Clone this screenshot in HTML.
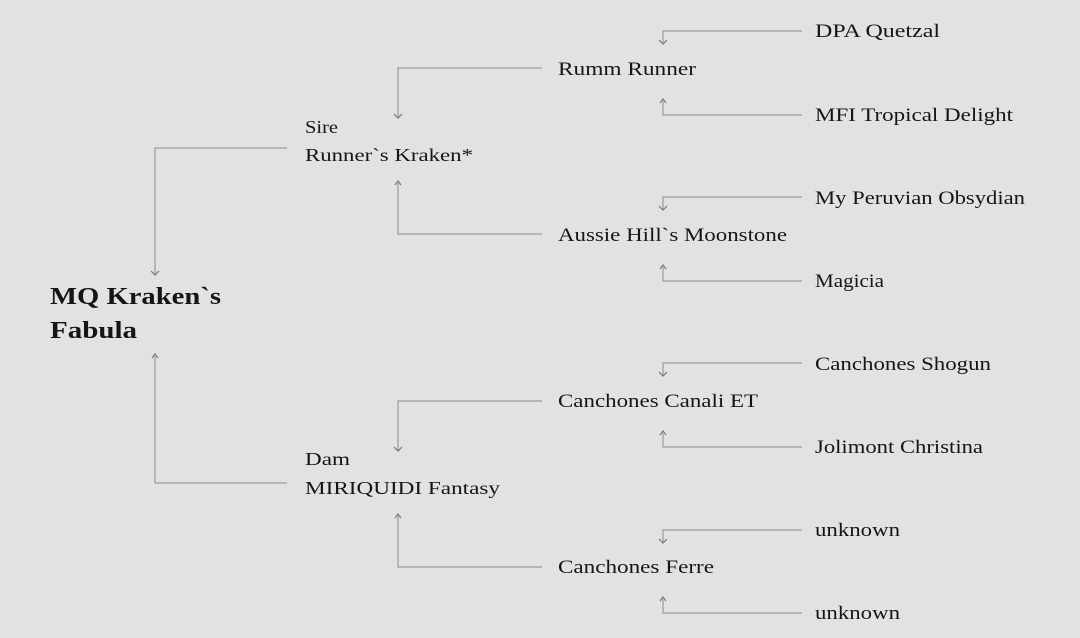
<!DOCTYPE html>
<html><head><meta charset="utf-8"><style>
html,body{margin:0;padding:0;background:#e0e2e3;}
svg{display:block;}
text{font-family:"Liberation Serif",serif;fill:#151515;}
.l{stroke:#9a9c9d;stroke-width:1.2;fill:none;}
.a{stroke:#777;stroke-width:1.2;fill:none;}
</style></head><body>
<svg width="1080" height="638" viewBox="0 0 1080 638" xmlns="http://www.w3.org/2000/svg">
<rect width="1080" height="638" fill="#e0e2e3"/>
<path class="l" d="M287 148 H155 V274"/><path class="a" d="M151 271 L155 275 L159 271"/>
<path class="l" d="M287 483 H155 V356"/><path class="a" d="M152 358 L155 354 L158 358"/>
<path class="l" d="M542 68 H398 V117"/><path class="a" d="M394 114 L398 118 L402 114"/>
<path class="l" d="M542 234 H398 V183"/><path class="a" d="M395 185 L398 181 L401 185"/>
<path class="l" d="M542 401 H398 V450"/><path class="a" d="M394 447 L398 451 L402 447"/>
<path class="l" d="M542 567 H398 V516"/><path class="a" d="M395 518 L398 514 L401 518"/>
<g>
<path class="l" d="M802 31 H663 V43"/><path class="a" d="M659 40 L663 44 L667 40"/>
<path class="l" d="M802 115 H663 V101"/><path class="a" d="M660 103 L663 99 L666 103"/>
<path class="l" d="M802 197 H663 V209"/><path class="a" d="M659 206 L663 210 L667 206"/>
<path class="l" d="M802 281 H663 V267"/><path class="a" d="M660 269 L663 265 L666 269"/>
<path class="l" d="M802 363 H663 V375"/><path class="a" d="M659 372 L663 376 L667 372"/>
<path class="l" d="M802 447 H663 V433"/><path class="a" d="M660 435 L663 431 L666 435"/>
<path class="l" d="M802 530 H663 V542"/><path class="a" d="M659 539 L663 543 L667 539"/>
<path class="l" d="M802 613 H663 V599"/><path class="a" d="M660 601 L663 597 L666 601"/>
</g>
<text x="50" y="304" font-size="24" font-weight="bold" textLength="171" lengthAdjust="spacingAndGlyphs">MQ Kraken`s</text>
<text x="50" y="338" font-size="24" font-weight="bold" textLength="87" lengthAdjust="spacingAndGlyphs">Fabula</text>
<text x="305" y="133" font-size="18" textLength="33" lengthAdjust="spacingAndGlyphs">Sire</text>
<text x="305" y="161" font-size="18" textLength="168" lengthAdjust="spacingAndGlyphs">Runner`s Kraken*</text>
<text x="305" y="465" font-size="18" textLength="45" lengthAdjust="spacingAndGlyphs">Dam</text>
<text x="305" y="494" font-size="18" textLength="195" lengthAdjust="spacingAndGlyphs">MIRIQUIDI Fantasy</text>
<g font-size="19">
<text x="558" y="75" textLength="138" lengthAdjust="spacingAndGlyphs">Rumm Runner</text>
<text x="558" y="241" textLength="229" lengthAdjust="spacingAndGlyphs">Aussie Hill`s Moonstone</text>
<text x="558" y="407" textLength="200" lengthAdjust="spacingAndGlyphs">Canchones Canali ET</text>
<text x="558" y="573" textLength="156" lengthAdjust="spacingAndGlyphs">Canchones Ferre</text>
</g>
<g font-size="19">
<text x="815" y="37" textLength="125" lengthAdjust="spacingAndGlyphs">DPA Quetzal</text>
<text x="815" y="121" textLength="198" lengthAdjust="spacingAndGlyphs">MFI Tropical Delight</text>
<text x="815" y="204" textLength="210" lengthAdjust="spacingAndGlyphs">My Peruvian Obsydian</text>
<text x="815" y="287" textLength="69" lengthAdjust="spacingAndGlyphs">Magicia</text>
<text x="815" y="370" textLength="176" lengthAdjust="spacingAndGlyphs">Canchones Shogun</text>
<text x="815" y="453" textLength="168" lengthAdjust="spacingAndGlyphs">Jolimont Christina</text>
<text x="815" y="536" textLength="85" lengthAdjust="spacingAndGlyphs">unknown</text>
<text x="815" y="619" textLength="85" lengthAdjust="spacingAndGlyphs">unknown</text>
</g>
</svg>
</body></html>
